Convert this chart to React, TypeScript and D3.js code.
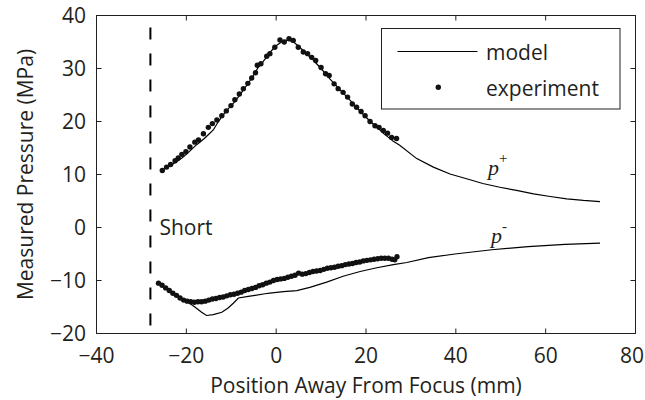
import React from "react";
import * as d3 from "d3";

// Peak positive pressure (p+) along the axis, model curve
const modelPlusX = [-25.2, -24, -23, -22, -21, -20, -19, -18, -17, -16, -15, -14, -13, -12, -11, -10, -9, -8, -7, -6, -5, -4, -3, -2, -1, 0, 1, 2, 3, 4, 5, 6, 7, 8, 9, 10, 11, 12, 13, 14, 15, 16, 17, 18, 19, 20, 21, 22, 23, 24, 25, 26, 27.5, 31.3, 35, 38.7, 42.4, 46, 49.8, 53.5, 57.3, 61, 64.7, 68.4, 72.1];
const modelPlusY = [10.9, 11.5, 12.0, 12.5, 13.1, 13.8, 14.6, 15.4, 16.1, 16.8, 17.6, 18.4, 19.8, 21.0, 22.1, 23.0, 24.0, 25.1, 26.3, 27.5, 28.8, 30.2, 31.2, 32.3, 33.4, 34.3, 34.9, 35.3, 35.3, 34.9, 34.2, 33.4, 32.6, 31.8, 30.9, 30.0, 29.0, 28.0, 27.1, 26.2, 25.3, 24.4, 23.5, 22.6, 21.7, 20.8, 20.0, 19.2, 18.5, 17.7, 17.0, 16.3, 15.5, 13.0, 11.4, 10.1, 9.2, 8.3, 7.6, 7.0, 6.35, 5.85, 5.4, 5.1, 4.9];

// Peak negative pressure (p-) along the axis, model curve
const modelMinusX = [-26.2, -25, -24, -23, -22, -21, -19.6, -18.1, -16.6, -15.5, -14, -12.1, -10.7, -9.55, -8.4, -6.2, -4.7, -2.5, -1.4, 1.6, 4.6, 7.5, 11.25, 14.9, 18.7, 22.4, 26.1, 29.1, 33.9, 39.8, 48.0, 56.1, 64.3, 72.1];
const modelMinusY = [-10.5, -11.1, -11.7, -12.3, -12.9, -13.45, -14.1, -15.0, -16.0, -16.6, -16.45, -16.0, -15.2, -14.3, -13.3, -13.0, -12.8, -12.5, -12.4, -12.1, -11.9, -11.3, -10.3, -9.2, -8.3, -7.6, -7.0, -6.6, -5.7, -5.0, -4.2, -3.6, -3.2, -2.96];

// Measured p+
const expPlusX = [-25.35, -24.4, -23.5, -22.5, -21.8, -21.0, -20.1, -19.2, -18.1, -17.3, -16.2, -15.1, -14.2, -13.2, -12.1, -11.1, -10.06, -9.2, -8.2, -7.3, -6.3, -5.45, -4.6, -4.2, -3.4, -2.1, -1.4, -0.3, 0.85, 1.8, 2.86, 3.8, 4.93, 6.04, 7.0, 7.9, 8.8, 10.0, 11.0, 11.8, 12.9, 13.8, 14.9, 15.9, 16.95, 17.9, 18.9, 19.8, 20.9, 22.0, 22.9, 23.85, 24.8, 25.7, 26.8];
const expPlusY = [10.75, 11.4, 11.9, 12.6, 13.1, 13.8, 14.3, 15.2, 16.1, 16.5, 17.7, 18.9, 19.6, 20.3, 21.1, 22.0, 23.0, 24.1, 25.2, 26.2, 27.2, 28.2, 29.2, 30.6, 30.9, 32.3, 32.8, 34.0, 35.4, 35.0, 35.6, 35.3, 34.0, 33.1, 32.8, 32.1, 31.5, 30.2, 29.0, 28.7, 27.1, 26.2, 25.5, 24.6, 23.3, 22.7, 21.9, 21.1, 20.0, 19.2, 18.9, 18.3, 17.8, 17.0, 16.8];

// Measured p-
const expMinusX = [-26.2, -25.4, -24.6, -23.8, -23.0, -22.2, -21.4, -20.6, -19.8, -19.0, -18.2, -17.4, -16.6, -15.8, -15.0, -14.2, -13.4, -12.6, -11.8, -11.0, -10.2, -9.4, -8.6, -7.8, -7.0, -6.2, -5.4, -4.6, -3.8, -3.0, -2.2, -1.4, -0.6, 0.2, 1.0, 1.8, 2.6, 3.4, 4.2, 5.0, 5.8, 6.6, 7.4, 8.2, 9.0, 9.8, 10.6, 11.4, 12.2, 13.0, 13.8, 14.6, 15.4, 16.2, 17.0, 17.8, 18.6, 19.4, 20.2, 21.0, 21.8, 22.6, 23.4, 24.2, 25.0, 25.8, 26.4, 26.9];
const expMinusY = [-10.5, -10.9, -11.4, -11.9, -12.4, -12.8, -13.3, -13.7, -13.9, -14.0, -14.1, -14.0, -14.0, -13.9, -13.7, -13.5, -13.4, -13.2, -13.1, -12.9, -12.7, -12.6, -12.4, -12.2, -11.9, -11.7, -11.5, -11.3, -11.0, -10.8, -10.5, -10.3, -10.0, -9.8, -9.7, -9.6, -9.4, -9.2, -9.0, -8.6, -8.8, -8.7, -8.5, -8.3, -8.2, -8.1, -7.9, -7.7, -7.6, -7.5, -7.3, -7.2, -7.0, -6.9, -6.8, -6.6, -6.5, -6.3, -6.2, -6.1, -6.0, -5.9, -5.8, -5.8, -5.8, -6.0, -6.1, -5.5];

const xTicks = [-40, -20, 0, 20, 40, 60, 80];
const yTicks = [-20, -10, 0, 10, 20, 30, 40];
const shortPosition = -28;

const W = 645;
const H = 400;
const left = 96.5;
const right = 635.5;
const top = 15.5;
const bottom = 333.5;
const ink = "#231f20";
const font = "'Open Sans', 'Noto Sans', sans-serif";
const fs = 21;

export default function App() {
  const x = d3.scaleLinear().domain([-40, 80]).range([left, right]);
  const y = d3.scaleLinear().domain([-20, 40]).range([bottom, top]);
  const fmt = d3.format("d");

  const line = d3
    .line<[number, number]>()
    .x((d) => x(d[0]))
    .y((d) => y(d[1]));

  const zip = (a: number[], b: number[]) => a.map((v, i) => [v, b[i]] as [number, number]);
  const mPlus = zip(modelPlusX, modelPlusY);
  const mMinus = zip(modelMinusX, modelMinusY);
  const ePlus = zip(expPlusX, expPlusY);
  const eMinus = zip(expMinusX, expMinusY);

  const tick = 5;

  return (
    <>
      <style>{`body{margin:0}`}</style>
      <svg width={W} height={H} style={{ display: "block", background: "#fff" }}>
        {/* Axes box */}
        <rect x={left} y={top} width={right - left} height={bottom - top} fill="none" stroke={ink} strokeWidth={1} />

        {/* Inward ticks on all four sides */}
        {xTicks.slice(1, -1).map((t) => (
          <g key={"xt" + t}>
            <line x1={x(t)} x2={x(t)} y1={bottom} y2={bottom - tick} stroke={ink} />
            <line x1={x(t)} x2={x(t)} y1={top} y2={top + tick} stroke={ink} />
          </g>
        ))}
        {yTicks.slice(1, -1).map((t) => (
          <g key={"yt" + t}>
            <line x1={left} x2={left + tick} y1={y(t)} y2={y(t)} stroke={ink} />
            <line x1={right} x2={right - tick} y1={y(t)} y2={y(t)} stroke={ink} />
          </g>
        ))}

        {/* Tick labels; the last one is kept inside the canvas */}
        {xTicks.map((t, i) => {
          const last = i === xTicks.length - 1;
          return (
            <text
              key={"xl" + t}
              x={last ? W - 1 : x(t)}
              y={363}
              textAnchor={last ? "end" : "middle"}
              fontFamily={font}
              fontSize={fs}
              fill={ink}
            >
              {fmt(t)}
            </text>
          );
        })}
        {yTicks.map((t) => (
          <text key={"yl" + t} x={86} y={y(t) + 7.5} textAnchor="end" fontFamily={font} fontSize={fs} fill={ink}>
            {fmt(t)}
          </text>
        ))}

        {/* Axis titles */}
        <text x={(left + right) / 2} y={393} textAnchor="middle" fontFamily={font} fontSize={fs} fill={ink}>
          Position Away From Focus (mm)
        </text>
        <text
          transform={`translate(33,${(top + bottom) / 2}) rotate(-90)`}
          textAnchor="middle"
          fontFamily={font}
          fontSize={fs}
          fill={ink}
        >
          Measured Pressure (MPa)
        </text>

        {/* Marker for the short position */}
        <line
          x1={x(shortPosition)}
          x2={x(shortPosition)}
          y1={y(40)}
          y2={y(-20)}
          stroke="#000"
          strokeWidth={2}
          strokeDasharray="12 14"
          strokeDashoffset={14}
        />
        <text x={x(shortPosition) + 9} y={235} fontFamily={font} fontSize={fs} fill={ink}>
          Short
        </text>

        {/* Model curves */}
        <path d={line(mPlus) ?? ""} fill="none" stroke="#000" strokeWidth={1.2} />
        <path d={line(mMinus) ?? ""} fill="none" stroke="#000" strokeWidth={1.2} />

        {/* Experimental points */}
        {ePlus.map((d, i) => (
          <circle key={"ep" + i} cx={x(d[0])} cy={y(d[1])} r={2.7} fill="#111" />
        ))}
        {eMinus.map((d, i) => (
          <circle key={"em" + i} cx={x(d[0])} cy={y(d[1])} r={2.7} fill="#111" />
        ))}

        {/* Curve labels */}
        <text x={488} y={175} fontFamily="'Liberation Serif', 'DejaVu Serif', serif" fontStyle="italic" fontSize={22} fill={ink}>
          p
          <tspan dy={-12} fontSize={15} fontStyle="normal">+</tspan>
        </text>
        <text x={491} y={243} fontFamily="'Liberation Serif', 'DejaVu Serif', serif" fontStyle="italic" fontSize={22} fill={ink}>
          p
          <tspan dy={-12} fontSize={15} fontStyle="normal">-</tspan>
        </text>

        {/* Legend */}
        <rect x={381.5} y={28.5} width={238.5} height={80.5} fill="#fff" stroke={ink} strokeWidth={1} />
        <line x1={397.5} x2={477.5} y1={51.5} y2={51.5} stroke="#000" strokeWidth={1.2} />
        <text x={486} y={60} fontFamily={font} fontSize={fs} fill={ink}>
          model
        </text>
        <circle cx={438.3} cy={87.3} r={2.7} fill="#111" />
        <text x={486} y={96} fontFamily={font} fontSize={fs} fill={ink}>
          experiment
        </text>
      </svg>
    </>
  );
}
